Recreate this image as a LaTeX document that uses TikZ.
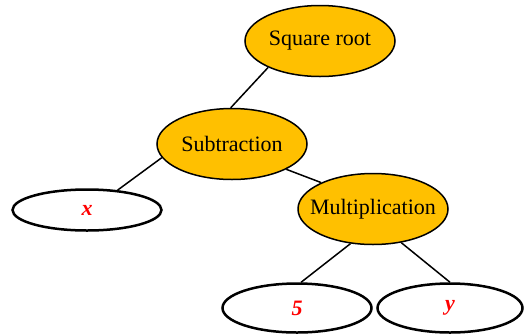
\documentclass[tikz,border=0pt]{standalone}
\usepackage{fontspec}
\setmainfont{Liberation Serif}
\usetikzlibrary{shapes.geometric}
\definecolor{gold}{HTML}{FFC000}
\newcommand{\zb}[1]{\makebox[0pt]{#1}}
\tikzset{
  op/.style={ellipse, draw=black, line width=1.5pt, fill=gold, minimum width=150pt, minimum height=71pt, inner sep=0pt, font=\fontsize{22}{24}\selectfont},
  leaf/.style={ellipse, draw=black, line width=2.5pt, fill=white, minimum width=149pt, inner sep=0pt, text=red, font=\fontsize{22}{24}\selectfont\bfseries\itshape},
  edge/.style={line width=1.5pt}
}
\begin{document}
\begin{tikzpicture}[x=1pt,y=-1pt]
\useasboundingbox (0,0) rectangle (527,335);
\node[op] (sq) at (320,41) {\zb{Square root}};
\node[op] (sub) at (232,144) {\zb{Subtraction}};
\node[leaf, minimum height=41pt] (x) at (87,210) {\zb{x}};
\node[op] (mul) at (373,209) {\zb{Multiplication}};
\node[leaf, minimum height=49pt] (five) at (297,308) {\zb{5}};
\node[leaf, minimum width=145pt, minimum height=49pt] (y) at (450,308) {\zb{y}};
\draw[edge] (sq.207) -- (sub.92);
\draw[edge] (sub.191) -- (x.33);
\draw[edge] (sub.335) -- (mul.153);
\draw[edge] (mul.237) -- (five.81);
\draw[edge] (mul.310) -- (y.90);
\end{tikzpicture}
\end{document}
